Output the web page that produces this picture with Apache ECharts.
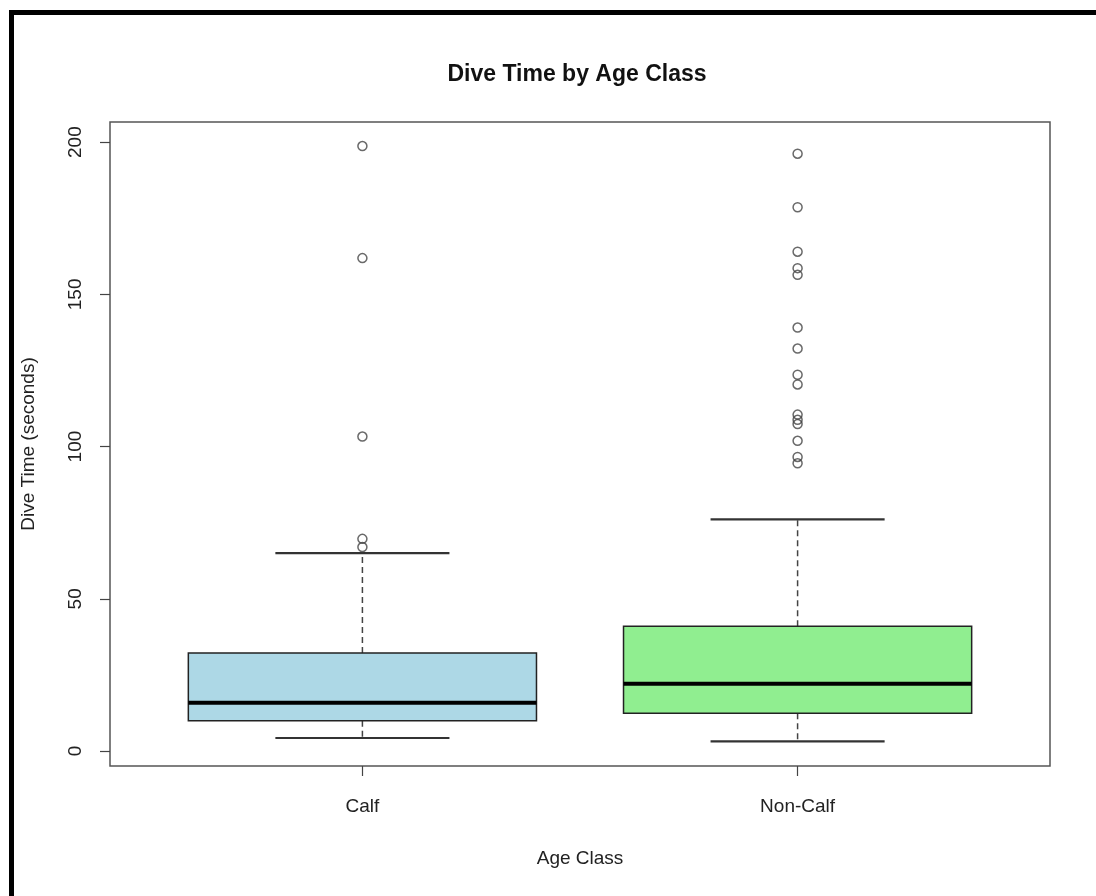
<!DOCTYPE html>
<html><head><meta charset="utf-8">
<script src="https://cdn.jsdelivr.net/npm/echarts@6/dist/echarts.min.js"></script>
<style>html,body{margin:0;padding:0;background:#fff}#c{width:1096px;height:896px}</style>
</head><body><div id="c"></div>
<script>
const categories = ['Calf', 'Non-Calf'];
const lowerWhisker = [4.3, 3.2];
const q1 = [10.0, 12.4];
const median = [15.9, 22.1];
const q3 = [32.2, 41.0];
const upperWhisker = [65.0, 76.1];
const calfOutliers = [198.7, 161.9, 103.3, 69.7, 67.0];
const nonCalfOutliers = [196.2, 178.6, 164.0, 158.6, 156.4, 139.1, 132.2, 123.6, 120.4, 110.5, 108.8, 107.4, 101.9, 96.6, 94.5];
const yTicks = [0, 50, 100, 150, 200];
const xTicks = [1, 2];
const boxColors = ['#ADD8E6', '#90EE90'];

const FONT = 'Liberation Sans';
const boxData = categories.map((c, i) => [i + 1, lowerWhisker[i], q1[i], median[i], q3[i], upperWhisker[i]]);
const outlierData = calfOutliers.map(v => [1, v]).concat(nonCalfOutliers.map(v => [2, v]));

function renderBox(params, api) {
  const i = params.dataIndex;
  const x = api.value(0);
  const half = api.size([0.4, 0])[0];
  const cap = half / 2;
  const pLow = api.coord([x, api.value(1)]);
  const pQ1 = api.coord([x, api.value(2)]);
  const pMed = api.coord([x, api.value(3)]);
  const pQ3 = api.coord([x, api.value(4)]);
  const pHigh = api.coord([x, api.value(5)]);
  const cx = pMed[0];
  const dash = { stroke: '#444', lineWidth: 1.5, lineDash: [6, 4] };
  const solid = { stroke: '#333', lineWidth: 2.2 };
  return {
    type: 'group',
    children: [
      { type: 'line', shape: { x1: cx, y1: pQ3[1], x2: cx, y2: pHigh[1] }, style: dash },
      { type: 'line', shape: { x1: cx, y1: pQ1[1], x2: cx, y2: pLow[1] }, style: dash },
      { type: 'line', shape: { x1: cx - cap, y1: pHigh[1], x2: cx + cap, y2: pHigh[1] }, style: solid },
      { type: 'line', shape: { x1: cx - cap, y1: pLow[1], x2: cx + cap, y2: pLow[1] }, style: solid },
      { type: 'rect', shape: { x: cx - half, y: pQ3[1], width: 2 * half, height: pQ1[1] - pQ3[1] },
        style: { fill: boxColors[i], stroke: '#222', lineWidth: 1.5 } },
      { type: 'line', shape: { x1: cx - half, y1: pMed[1], x2: cx + half, y2: pMed[1] },
        style: { stroke: '#000', lineWidth: 4 } }
    ]
  };
}

const chart = echarts.init(document.getElementById('c'), null, { renderer: 'canvas' });
chart.setOption({
  animation: false,
  backgroundColor: '#fff',
  title: {
    text: 'Dive Time by Age Class',
    left: 572, top: 58, textAlign: 'center',
    textStyle: { fontFamily: FONT, fontSize: 23, fontWeight: 'bold', color: '#111' }
  },
  graphic: [
    { type: 'rect', shape: { x: 9, y: 10, width: 5, height: 886 }, style: { fill: '#000' } },
    { type: 'rect', shape: { x: 9, y: 10, width: 1087, height: 5 }, style: { fill: '#000' } }
  ],
  grid: { left: 110, right: 46, top: 122, bottom: 130, show: true, borderColor: '#555', borderWidth: 1.5, backgroundColor: 'transparent' },
  xAxis: {
    type: 'value', min: 0.42, max: 2.58,
    name: 'Age Class', nameLocation: 'middle', nameGap: 83,
    nameTextStyle: { fontFamily: FONT, fontSize: 19, color: '#222' },
    axisLine: { show: false, onZero: false },
    splitLine: { show: false },
    axisTick: { show: true, length: 10, lineStyle: { color: '#444', width: 1.2 }, customValues: xTicks },
    axisLabel: { customValues: xTicks, margin: 31, fontFamily: FONT, fontSize: 19, color: '#222',
      formatter: v => categories[Math.round(v) - 1] }
  },
  yAxis: {
    type: 'value', min: -4.9, max: 206.6,
    name: 'Dive Time (seconds)', nameLocation: 'middle', nameGap: 72,
    nameTextStyle: { fontFamily: FONT, fontSize: 19, color: '#222' },
    axisLine: { show: false, onZero: false },
    splitLine: { show: false },
    axisTick: { show: true, length: 10, lineStyle: { color: '#444', width: 1.2 }, customValues: yTicks },
    axisLabel: { customValues: yTicks, rotate: 90, margin: 25, fontFamily: FONT, fontSize: 19, color: '#222' }
  },
  series: [
    {
      type: 'custom', renderItem: renderBox, data: boxData,
      encode: { x: 0, y: [1, 2, 3, 4, 5] }, z: 2
    },
    {
      type: 'scatter', data: outlierData, symbol: 'circle', symbolSize: 9, z: 3,
      itemStyle: { color: 'rgba(0,0,0,0)', borderColor: '#444', borderWidth: 1.5 }
    }
  ]
});
</script></body></html>
